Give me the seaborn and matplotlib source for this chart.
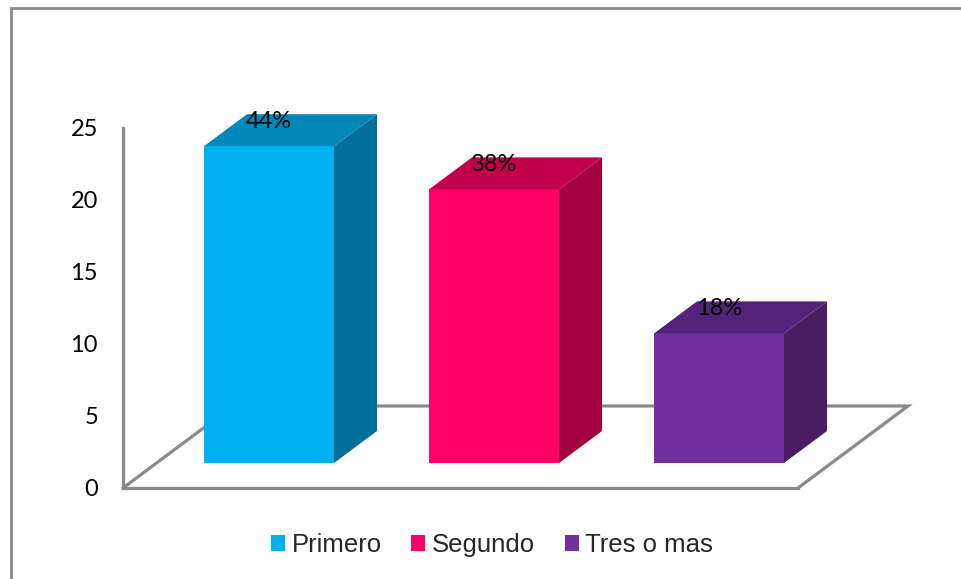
import matplotlib
matplotlib.use("Agg")
import matplotlib.pyplot as plt
from matplotlib.patches import Polygon, Patch
from matplotlib.lines import Line2D
from matplotlib.transforms import ScaledTranslation
import seaborn as sns
import pandas as pd

# Data
categories = ["Primero", "Segundo", "Tres o mas"]
counts = [22, 19, 9]
percent_labels = ["44%", "38%", "18%"]
y_ticks = [0, 5, 10, 15, 20, 25]

# Colours per category: front, side, top faces
front_colors = ["#00B0F0", "#FF0066", "#7030A0"]
side_colors = ["#00709A", "#A3003E", "#481E62"]
top_colors = ["#0088BB", "#C2004C", "#53237A"]

sns.set_theme(style="white")
plt.rcParams["font.family"] = ["Lato", "DejaVu Sans"]

W, H, DPI = 961, 579, 100
fig = plt.figure(figsize=(W / DPI, H / DPI), dpi=DPI)

# Axes: front floor edge / vertical axis in pixels
ax_left, ax_right, ax_top, ax_bottom = 123, 798, 128, 488
ax = fig.add_axes([ax_left / W, (H - ax_bottom) / H,
                   (ax_right - ax_left) / W, (ax_bottom - ax_top) / H])

df = pd.DataFrame({"categoria": categories, "valor": counts})
bar_width = 130 / 225
sns.barplot(data=df, x="categoria", y="valor", hue="categoria",
            palette=front_colors, width=bar_width, legend=False,
            linewidth=0, saturation=1, ax=ax, zorder=3)

ax.set_xlim(-0.5, 2.5)
ax.set_ylim(0, 25)
ax.set_yticks(y_ticks)
ax.set_xticks([])
ax.set_xlabel("")
ax.set_ylabel("")
ax.tick_params(axis="y", length=0, pad=18, labelsize=17, labelcolor="black")
for lab in ax.get_yticklabels():
    lab.set_fontfamily(["Lato", "DejaVu Sans"])

grey = "#8A8A8A"
for side in ["top", "right"]:
    ax.spines[side].set_visible(False)
for side in ["left", "bottom"]:
    ax.spines[side].set_color(grey)
    ax.spines[side].set_linewidth(2.3)
    ax.spines[side].set_zorder(1)

# 3-D floor (depth in data units, derived from the axis scales)
px_per_cat = (ax_right - ax_left) / 3
px_per_unit = (ax_bottom - ax_top) / 25
floor_dx = 110 / px_per_cat
floor_dy = 82 / px_per_unit
x0, x1 = ax.get_xlim()
floor_pts = [(x0, 0), (x0 + floor_dx, floor_dy), (x1 + floor_dx, floor_dy), (x1, 0)]
ax.add_line(Line2D([p[0] for p in floor_pts], [p[1] for p in floor_pts],
                   color=grey, lw=2.3, zorder=1, clip_on=False,
                   solid_joinstyle="miter"))

# Bars sit in a plane set back into the floor
bar_plane = ax.transData + ScaledTranslation(33.5 / DPI, 25 / DPI, fig.dpi_scale_trans)
for p in ax.patches:
    p.set_transform(bar_plane)
    p.set_clip_on(False)

depth_dx = 43 / px_per_cat
depth_dy = 32 / px_per_unit
for i, (v, sc, tc, lab) in enumerate(zip(counts, side_colors, top_colors, percent_labels)):
    xl = i - bar_width / 2
    xr = i + bar_width / 2
    side = Polygon([(xr, 0), (xr, v), (xr + depth_dx, v + depth_dy), (xr + depth_dx, depth_dy)],
                   closed=True, facecolor=sc, edgecolor="none", zorder=3,
                   transform=bar_plane, clip_on=False)
    top = Polygon([(xl, v), (xr, v), (xr + depth_dx, v + depth_dy), (xl + depth_dx, v + depth_dy)],
                  closed=True, facecolor=tc, edgecolor="none", zorder=3,
                  transform=bar_plane, clip_on=False)
    ax.add_patch(side)
    ax.add_patch(top)
    ax.text(i, v + 25 / px_per_unit, lab, transform=bar_plane, ha="center", va="center",
            fontsize=17, color="black", zorder=5, clip_on=False,
            family=["Lato", "DejaVu Sans"])

# Legend
handles = [Patch(facecolor=c, edgecolor="none", label=n) for c, n in zip(front_colors, categories)]
leg = fig.legend(handles=handles, loc="center", ncol=3, frameon=False,
                 bbox_to_anchor=(492 / W, 1 - 545 / H),
                 prop={"family": ["Liberation Sans", "DejaVu Sans"], "size": 18.5},
                 handlelength=0.55, handleheight=0.55, handletextpad=0.25,
                 columnspacing=1.15, borderpad=0, borderaxespad=0)

# Chart-area border (top and left edges)
fig.add_artist(Line2D([11 / W, 11 / W, 1], [0, 1 - 8 / H, 1 - 8 / H],
                      transform=fig.transFigure, color="#888888", lw=2.0,
                      solid_joinstyle="miter"))

fig.savefig("out.png", dpi=DPI)
